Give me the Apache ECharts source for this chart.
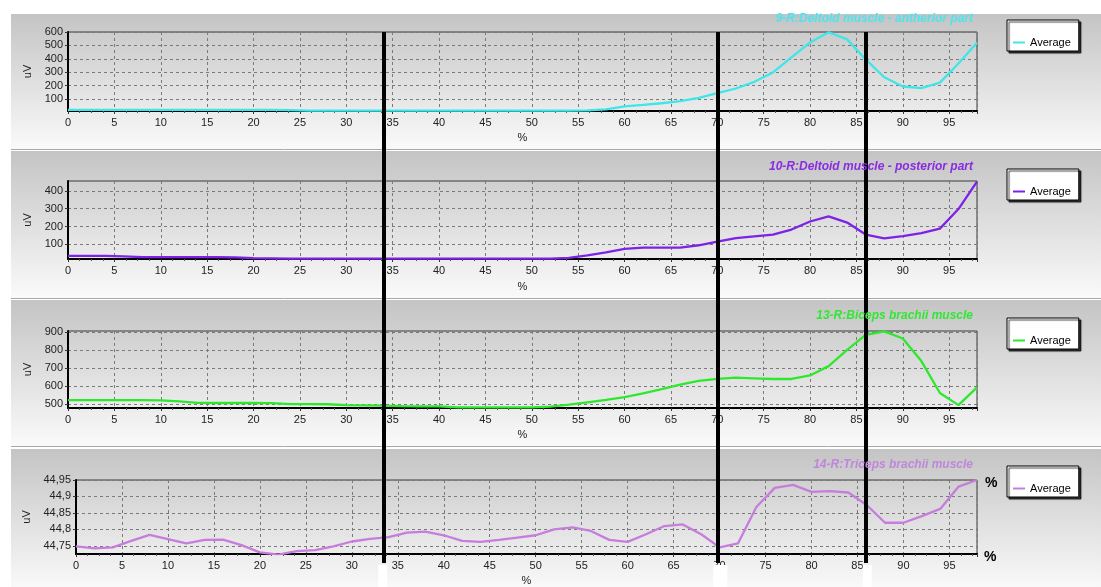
<!DOCTYPE html>
<html>
<head>
<meta charset="utf-8">
<script src="https://cdn.jsdelivr.net/npm/echarts@6/dist/echarts.min.js"></script>
<style>
  html, body { margin: 0; padding: 0; background: #ffffff; }
  #chart { width: 1101px; height: 587px; }
</style>
</head>
<body>
<div id="chart"></div>
<script>
// Gait cycle position (%) of each averaged sample
const percent = [0, 2, 4, 6, 8, 10, 12, 14, 16, 18, 20, 22, 24, 26, 28, 30, 32, 34, 36, 38,
  40, 42, 44, 46, 48, 50, 52, 54, 56, 58, 60, 62, 64, 66, 68, 70, 72, 74, 76, 78,
  80, 82, 84, 86, 88, 90, 92, 94, 96, 98];

// Averaged EMG envelopes (uV)
const deltoidAnterior = [18, 18, 18, 18, 18, 18, 18, 18, 18, 18, 18, 18, 17, 13, 13, 13, 13, 13, 13, 13,
  13, 13, 13, 13, 13, 13, 13, 13, 14, 22, 45, 55, 68, 84, 108, 143, 178, 228, 298, 410,
  522, 598, 545, 395, 262, 193, 181, 222, 365, 520];

const deltoidPosterior = [35, 35, 35, 33, 28, 28, 28, 28, 28, 27, 23, 22, 20, 20, 20, 20, 20, 20, 20, 20,
  20, 20, 20, 20, 20, 20, 20, 24, 38, 55, 75, 82, 82, 82, 95, 115, 135, 145, 155, 183,
  228, 257, 222, 155, 133, 146, 163, 188, 298, 452];

const bicepsBrachii = [522, 522, 522, 522, 522, 521, 515, 507, 506, 506, 506, 505, 500, 500, 499, 494, 493, 491, 488, 487,
  487, 482, 481, 481, 481, 481, 486, 497, 510, 523, 539, 560, 583, 608, 629, 641, 648, 644, 640, 640,
  660, 712, 803, 886, 906, 866, 740, 562, 494, 593];

const tricepsBrachii = [44.748, 44.742, 44.745, 44.765, 44.783, 44.770, 44.757, 44.768, 44.769, 44.752,
  44.730, 44.723, 44.734, 44.737, 44.748, 44.763, 44.771, 44.776, 44.790, 44.793,
  44.782, 44.765, 44.762, 44.768, 44.775, 44.782, 44.800, 44.806, 44.795, 44.768,
  44.762, 44.785, 44.810, 44.815, 44.785, 44.745, 44.757, 44.868, 44.926, 44.935,
  44.914, 44.916, 44.912, 44.874, 44.820, 44.820, 44.840, 44.862, 44.930, 44.950];

// Event cursors (% of cycle)
const cursorPositions = [34, 70, 86];

// Y tick labels per channel
const ticksAnterior = [100, 200, 300, 400, 500, 600];
const ticksPosterior = [100, 200, 300, 400];
const ticksBiceps = [500, 600, 700, 800, 900];
const ticksTriceps = [44.75, 44.8, 44.85, 44.9, 44.95];

const channelTitles = ['9-R:Deltoid muscle - antherior part', '10-R:Deltoid muscle - posterior part',
  '13-R:Biceps brachii muscle', '14-R:Triceps brachii muscle'];
const legendLabel = 'Average';

const FONT = '"Liberation Sans", Arial, sans-serif';

const channels = [
  { data: deltoidAnterior, ticks: ticksAnterior, min: 10, max: 600, color: '#3ee6ea', titleColor: '#4fe3ee' },
  { data: deltoidPosterior, ticks: ticksPosterior, min: 18, max: 455, color: '#7d22e6', titleColor: '#8a2be2' },
  { data: bicepsBrachii, ticks: ticksBiceps, min: 478, max: 908, color: '#2ee82e', titleColor: '#33e633' },
  { data: tricepsBrachii, ticks: ticksTriceps, min: 44.725, max: 44.95, color: '#c67ddc', titleColor: '#bf86dc' }
];

// Layout of the four stacked panels
const layout = [
  { left: 68, top: 32, height: 79, panelTop: 14, panelBottom: 149, titleTop: 13, legendTop: 20, nameGap: 29, xNameGap: 21 },
  { left: 68, top: 181, height: 78, panelTop: 151, panelBottom: 298, titleTop: 161, legendTop: 169, nameGap: 29, xNameGap: 22 },
  { left: 68, top: 331, height: 77, panelTop: 300, panelBottom: 446, titleTop: 310, legendTop: 318, nameGap: 29, xNameGap: 21 },
  { left: 76, top: 480, height: 83, panelTop: 449, panelBottom: 590, titleTop: 459, legendTop: 466, nameGap: 37, xNameGap: 21 }
];
const PLOT_RIGHT = 977;

const chart = echarts.init(document.getElementById('chart'), null, { renderer: 'canvas' });

const grids = [], xAxes = [], yAxes = [], series = [], titles = [], legends = [], graphics = [];

layout.forEach((L, i) => {
  const ch = channels[i];
  graphics.push({
    type: 'rect', z: -10, silent: true,
    shape: { x: 11, y: L.panelTop, width: 1090, height: L.panelBottom - L.panelTop },
    style: {
      fill: new echarts.graphic.LinearGradient(0, 0, 0, 1, [
        { offset: 0, color: '#c4c4c4' }, { offset: 1, color: '#fafafa' }
      ]),
      stroke: null
    }
  });
  graphics.push({
    type: 'line', z: -9, silent: true,
    shape: { x1: 11, y1: L.panelBottom + 0.5, x2: 1101, y2: L.panelBottom + 0.5 },
    style: { stroke: '#a8a8a8', lineWidth: 1 }
  });

  grids.push({
    left: L.left, top: L.top, width: PLOT_RIGHT - L.left, height: L.height,
    show: true, borderColor: '#3a3a3a', borderWidth: 1, backgroundColor: 'transparent'
  });

  xAxes.push({
    type: 'value', gridIndex: i, min: 0, max: 98, interval: 5,
    name: '%', nameLocation: 'middle', nameGap: L.xNameGap,
    nameTextStyle: { fontFamily: FONT, fontSize: 11, color: '#222' },
    axisLine: { show: true, onZero: false, lineStyle: { color: '#000', width: 2 } },
    axisTick: { show: true, length: 3, lineStyle: { color: '#333' } },
    minorTick: { show: true, splitNumber: 4, length: 2, lineStyle: { color: '#555' } },
    axisLabel: { fontFamily: FONT, fontSize: 11, color: '#222', margin: 6, showMaxLabel: false },
    splitLine: { show: true, lineStyle: { color: '#7a7a7a', type: [3, 3], width: 1 } }
  });

  yAxes.push({
    type: 'value', gridIndex: i, min: ch.min, max: ch.max,
    name: 'uV', nameLocation: 'middle', nameGap: L.nameGap, nameRotate: 90,
    nameTextStyle: { fontFamily: FONT, fontSize: 11, color: '#222' },
    axisLine: { show: true, lineStyle: { color: '#000', width: 2 } },
    axisTick: { show: true, length: 3, customValues: ch.ticks, lineStyle: { color: '#333' } },
    axisLabel: {
      fontFamily: FONT, fontSize: 11, color: '#222', margin: 5, customValues: ch.ticks,
      formatter: v => String(+(+v).toFixed(2)).replace('.', ',')
    },
    splitLine: { show: true, lineStyle: { color: '#7a7a7a', type: [3, 3], width: 1 } }
  });

  const name = channelTitles[i] + ' ' + legendLabel;
  series.push({
    type: 'line', name: name, xAxisIndex: i, yAxisIndex: i,
    data: percent.map((p, k) => [p, ch.data[k]]),
    symbol: 'none', clip: true, z: 3,
    lineStyle: { color: ch.color, width: 2.3 },
    itemStyle: { color: ch.color }
  });

  titles.push({
    text: channelTitles[i], right: 1101 - 973, top: L.titleTop, padding: 0,
    textStyle: { fontFamily: FONT, fontSize: 12, fontStyle: 'italic', fontWeight: 'bold', color: ch.titleColor }
  });

  legends.push({
    data: [name], left: 1007, top: L.legendTop, orient: 'vertical',
    padding: [17, 8, 3, 6], backgroundColor: '#ffffff', borderColor: '#000', borderWidth: 1,
    shadowColor: 'rgba(0,0,0,0.75)', shadowBlur: 1, shadowOffsetX: 2, shadowOffsetY: 2,
    icon: 'rect', itemWidth: 12, itemHeight: 2, selectedMode: false,
    formatter: () => legendLabel,
    textStyle: { fontFamily: FONT, fontSize: 11, color: '#000' }
  });
});

// Overlay used for the event cursors spanning all channels
grids.push({ left: 68, top: 32, width: PLOT_RIGHT - 68, height: 563 - 32, show: false });
xAxes.push({ type: 'value', gridIndex: 4, min: 0, max: 98, show: false });
yAxes.push({ type: 'value', gridIndex: 4, min: 0, max: 1, show: false });
series.push({
  type: 'line', name: 'cursors', xAxisIndex: 4, yAxisIndex: 4, data: [], silent: true, z: 20,
  markLine: {
    silent: true, symbol: ['none', 'none'], label: { show: false }, animation: false,
    lineStyle: { color: '#000', width: 4, type: 'solid' },
    emphasis: { disabled: true },
    data: cursorPositions.map(v => ({ xAxis: v }))
  }
});

// Axis-unit marks on the right of the last channel
graphics.push({ type: 'text', z: 50, silent: true, style: { x: 985, y: 476, text: '%', font: 'bold 14px ' + FONT, fill: '#000' } });
graphics.push({ type: 'text', z: 50, silent: true, style: { x: 984, y: 550, text: '%', font: 'bold 14px ' + FONT, fill: '#000' } });

chart.setOption({
  animation: false,
  backgroundColor: '#ffffff',
  title: titles,
  legend: legends,
  grid: grids,
  xAxis: xAxes,
  yAxis: yAxes,
  series: series,
  graphic: graphics
});

// Light strips under the cursors in the last channel's label row
const stripSpan = [[-5, 4], [-4, 10], [-3, 6]];
const strips = cursorPositions.map((v, k) => {
  const px = chart.convertToPixel({ xAxisIndex: 4 }, v);
  return {
    type: 'rect', z: 40, silent: true,
    shape: { x: px + stripSpan[k][0], y: 565, width: stripSpan[k][1] - stripSpan[k][0], height: 22 },
    style: { fill: '#ffffff' }
  };
});
chart.setOption({ graphic: graphics.concat(strips) });
</script>
</body>
</html>
